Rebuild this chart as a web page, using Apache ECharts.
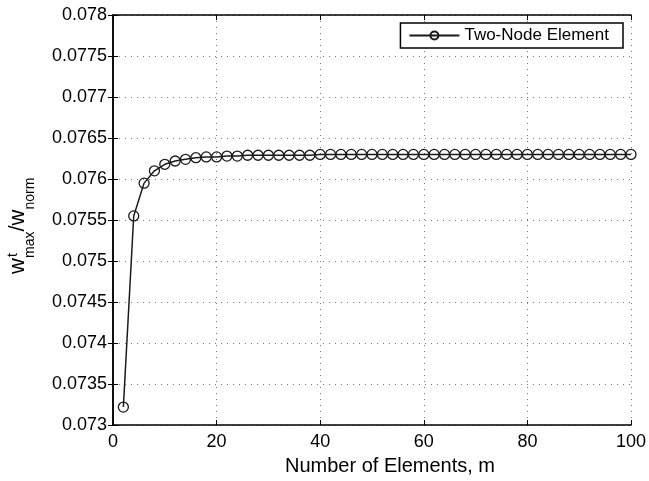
<!DOCTYPE html>
<html>
<head>
<meta charset="utf-8">
<script src="https://cdn.jsdelivr.net/npm/echarts@6/dist/echarts.min.js"></script>
<style>
  html, body { margin: 0; padding: 0; background: #fff; }
  #chart { width: 649px; height: 481px; }
</style>
</head>
<body>
<div id="chart"></div>
<script>
// number of elements m
var elements = [2, 4, 6, 8, 10, 12, 14, 16, 18, 20,
  22, 24, 26, 28, 30, 32, 34, 36, 38, 40,
  42, 44, 46, 48, 50, 52, 54, 56, 58, 60,
  62, 64, 66, 68, 70, 72, 74, 76, 78, 80,
  82, 84, 86, 88, 90, 92, 94, 96, 98, 100];

// w_max^t / w_norm
var twoNode = [0.07322, 0.07555, 0.07595, 0.07610, 0.07618, 0.07622, 0.07624, 0.07626, 0.07627, 0.07627,
  0.07628, 0.07628, 0.07629, 0.07629, 0.07629, 0.07629, 0.07629, 0.07629, 0.07629, 0.07630,
  0.07630, 0.07630, 0.07630, 0.07630, 0.07630, 0.07630, 0.07630, 0.07630, 0.07630, 0.07630,
  0.07630, 0.07630, 0.07630, 0.07630, 0.07630, 0.07630, 0.07630, 0.07630, 0.07630, 0.07630,
  0.07630, 0.07630, 0.07630, 0.07630, 0.07630, 0.07630, 0.07630, 0.07630, 0.07630, 0.07630];

var FONT = '"Liberation Sans", Arial, sans-serif';

var chart = echarts.init(document.getElementById('chart'));

var frameAxis = {
  axisLine: { show: true, lineStyle: { color: '#000', width: 1.5 } },
  axisTick: { show: true, inside: true, length: 5, lineStyle: { color: '#000', width: 1 } },
  axisLabel: { show: false },
  splitLine: { show: false }
};

chart.setOption({
  animation: false,
  backgroundColor: '#fff',
  grid: { left: 113, right: 18, top: 15, bottom: 50 },
  legend: {
    right: 26,
    top: 23,
    padding: [4, 14, 4, 8],
    itemWidth: 50,
    itemHeight: 10,
    backgroundColor: '#fff',
    borderColor: '#000',
    borderWidth: 1.5,
    borderRadius: 0,
    textStyle: { fontFamily: FONT, fontSize: 17, color: '#000' },
    data: ['Two-Node Element']
  },
  xAxis: [
    Object.assign({
      type: 'value', min: 0, max: 100, interval: 20,
      name: 'Number of Elements, m',
      nameLocation: 'middle',
      nameGap: 27,
      nameTextStyle: { fontFamily: FONT, fontSize: 20, color: '#000', padding: [0, 0, 0, 36] }
    }, frameAxis, {
      axisLabel: { show: true, margin: 8, fontFamily: FONT, fontSize: 18, color: '#000' },
      splitLine: { show: true, lineStyle: { color: '#777', type: [1, 5], width: 1 } }
    }),
    Object.assign({ type: 'value', min: 0, max: 100, interval: 20, position: 'top' }, frameAxis)
  ],
  yAxis: [
    Object.assign({
      type: 'value', min: 0.073, max: 0.078, interval: 0.0005
    }, frameAxis, {
      axisLabel: {
        show: true, margin: 6, fontFamily: FONT, fontSize: 18, color: '#000',
        formatter: function (v) { return String(parseFloat(v.toFixed(4))); }
      },
      splitLine: { show: true, lineStyle: { color: '#777', type: [1, 5], width: 1 } }
    }),
    Object.assign({ type: 'value', min: 0.073, max: 0.078, interval: 0.0005, position: 'right' }, frameAxis)
  ],
  graphic: [{
    type: 'group',
    x: 2,
    y: 274,
    rotation: Math.PI / 2,
    children: [
      { type: 'text', x: 0, y: 16, style: { text: 'w', fontFamily: FONT, fontSize: 22, fill: '#000', verticalAlign: 'middle' } },
      { type: 'text', x: 17, y: 18, style: { text: 't', fontFamily: FONT, fontSize: 14, fill: '#000', verticalAlign: 'bottom' } },
      { type: 'text', x: 16, y: 28, style: { text: 'max', fontFamily: FONT, fontSize: 14, fill: '#000', verticalAlign: 'middle' } },
      { type: 'text', x: 42.5, y: 16, style: { text: '/', fontFamily: FONT, fontSize: 22, fill: '#000', verticalAlign: 'middle' } },
      { type: 'text', x: 48.6, y: 16, style: { text: 'w', fontFamily: FONT, fontSize: 22, fill: '#000', verticalAlign: 'middle' } },
      { type: 'text', x: 64.5, y: 28.5, style: { text: 'norm', fontFamily: FONT, fontSize: 14, fill: '#000', verticalAlign: 'middle' } }
    ]
  }],
  series: [{
    name: 'Two-Node Element',
    type: 'line',
    data: elements.map(function (m, i) { return [m, twoNode[i]]; }),
    symbol: 'circle',
    symbolSize: 10,
    lineStyle: { color: '#1a1a1a', width: 1.5 },
    itemStyle: { color: 'transparent', borderColor: '#1a1a1a', borderWidth: 1.3 },
    emphasis: { disabled: true }
  }]
});
</script>
</body>
</html>
